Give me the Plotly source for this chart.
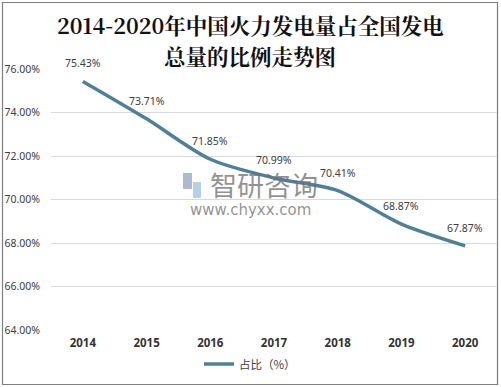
import plotly.graph_objects as go

years = ["2014", "2015", "2016", "2017", "2018", "2019", "2020"]
share = [75.43, 73.71, 71.85, 70.99, 70.41, 68.87, 67.87]
labels = [f"{v:.2f}%" for v in share]
yticks = [64, 66, 68, 70, 72, 74, 76]
ytick_text = [f"{v:.2f}%" for v in yticks]

W, H = 501, 387
L, R, T, B = 51, 4, 69, 57
pw = W - L - R
ph = H - T - B

def px(x):
    return (x - L) / pw

def py(y):
    return 1 - (y - T) / ph

fig = go.Figure()
fig.add_trace(go.Scatter(
    x=years, y=share, mode="lines", name="占比（%）",
    line=dict(color="#4e809a", width=3.5, shape="spline", smoothing=0.8),
))

label_ann = [
    dict(x=i, y=v, xref="x", yref="y", text=t, showarrow=False,
         yanchor="bottom", xanchor="center", yshift=9,
         font=dict(family="Noto Sans, DejaVu Sans", size=10.5, color="#404040"))
    for i, (v, t) in enumerate(zip(share, labels))
]

fig.update_layout(
    width=W, height=H,
    margin=dict(l=L, r=R, t=T, b=B, autoexpand=False),
    paper_bgcolor="white", plot_bgcolor="white",
    font=dict(family="Noto Sans CJK SC", color="#404040"),
    xaxis=dict(
        type="category", range=[-0.5, 6.5], showgrid=False, zeroline=False, showline=False,
        ticks="", tickfont=dict(family="Noto Sans, DejaVu Sans", size=11.5, color="#333333", weight="bold"),
        ticklabelstandoff=4,
    ),
    yaxis=dict(
        range=[64, 76], tickvals=yticks, ticktext=ytick_text,
        showgrid=True, gridcolor="#d9d9d9", gridwidth=1,
        zeroline=False, showline=False, ticks="",
        tickfont=dict(family="Noto Sans, DejaVu Sans", size=10.5, color="#404040"),
        ticklabelstandoff=10,
    ),
    showlegend=True,
    legend=dict(
        orientation="h", x=px(250), xanchor="center", y=py(364), yanchor="middle",
        font=dict(family="Noto Sans CJK SC", size=11.5, color="#404040"),
        itemwidth=30,
    ),
    shapes=[
        dict(type="rect", xref="paper", yref="paper",
             x0=px(2.5), x1=px(497.5), y0=py(384.5), y1=py(2.5),
             line=dict(color="#7f7f7f", width=1.2), fillcolor="rgba(0,0,0,0)", layer="below"),
        dict(type="rect", xref="paper", yref="paper",
             x0=px(183), x1=px(192), y0=py(189), y1=py(173),
             line=dict(width=0), fillcolor="rgba(110,130,170,0.55)", layer="above"),
        dict(type="rect", xref="paper", yref="paper",
             x0=px(193), x1=px(201), y0=py(198), y1=py(182),
             line=dict(width=0), fillcolor="rgba(120,170,215,0.55)", layer="above"),
    ],
    annotations=[
        dict(text="<b>2014-2020年中国火力发电量占全国发电</b>", xref="paper", yref="paper",
             x=px(250), y=py(25), xanchor="center", yanchor="middle", showarrow=False,
             font=dict(family="Noto Serif CJK SC, Noto Sans CJK SC", size=21.5, color="#111111")),
        dict(text="<b>总量的比例走势图</b>", xref="paper", yref="paper",
             x=px(250), y=py(55), xanchor="center", yanchor="middle", showarrow=False,
             font=dict(family="Noto Serif CJK SC, Noto Sans CJK SC", size=21.5, color="#111111")),
        dict(text="智研咨询", xref="paper", yref="paper", x=px(264), y=py(184),
             xanchor="center", yanchor="middle", showarrow=False,
             font=dict(family="Noto Sans CJK SC", size=27, color="rgba(110,110,110,0.75)")),
        dict(text="www.chyxx.com", xref="paper", yref="paper", x=px(250), y=py(210),
             xanchor="center", yanchor="middle", showarrow=False,
             font=dict(family="DejaVu Sans", size=15, color="rgba(110,110,110,0.75)")),
    ] + label_ann,
)

fig.write_html("out.html", config={"displayModeBar": False},
               post_script="document.body.style.margin='0';")
